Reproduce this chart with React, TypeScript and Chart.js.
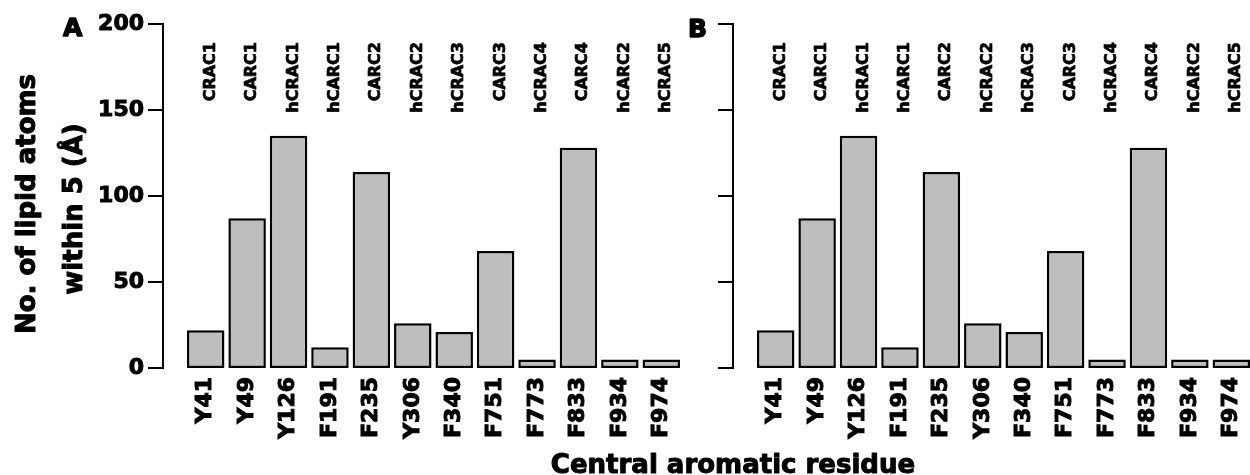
import React, { useEffect, useRef } from 'react';
import { Chart, registerables } from 'chart.js';

Chart.register(...registerables);

const residues = ['Y41', 'Y49', 'Y126', 'F191', 'F235', 'Y306', 'F340', 'F751', 'F773', 'F833', 'F934', 'F974'];
const motifs = ['CRAC1', 'CARC1', 'hCRAC1', 'hCARC1', 'CARC2', 'hCRAC2', 'hCRAC3', 'CARC3', 'hCRAC4', 'CARC4', 'hCARC2', 'hCRAC5'];
const lipidAtoms = [22, 87, 135, 12, 114, 26, 21, 68, 5, 128, 5, 5];
const yTickValues = [0, 50, 100, 150, 200];
const yTitleLines = ['No. of lipid atoms', 'within 5 (Å)'];
const xTitle = 'Central aromatic residue';
const panelLetters = ['A', 'B'];

const FONT = "'DejaVu Sans', 'Liberation Sans', sans-serif";

function heavyText(ctx: CanvasRenderingContext2D, t: string, x: number, y: number, w: number) {
  ctx.lineWidth = w;
  ctx.lineJoin = 'round';
  ctx.strokeText(t, x, y);
  ctx.fillText(t, x, y);
}

function makeChart(canvas: HTMLCanvasElement, panel: number, canvasWidth: number) {
  const decor = {
    id: 'panelDecor',
    afterDraw(chart: any) {
      const { ctx, chartArea } = chart;
      const xs = chart.scales.x;
      const ys = chart.scales.y;
      ctx.save();
      ctx.strokeStyle = '#000';
      ctx.fillStyle = '#000';
      ctx.lineWidth = 2;
      ctx.lineCap = 'square';
      const ax = chartArea.left - 22;
      ctx.beginPath();
      ctx.moveTo(ax, ys.getPixelForValue(yTickValues[yTickValues.length - 1]));
      ctx.lineTo(ax, ys.getPixelForValue(yTickValues[0]));
      yTickValues.forEach((v) => {
        const py = ys.getPixelForValue(v);
        ctx.moveTo(ax - 14, py);
        ctx.lineTo(ax, py);
      });
      ctx.stroke();
      ctx.lineCap = 'butt';

      // motif labels
      ctx.font = `bold 16px ${FONT}`;
      motifs.forEach((m, i) => {
        ctx.save();
        ctx.translate(xs.getPixelForValue(i), chartArea.top + 18);
        ctx.rotate(-Math.PI / 2);
        ctx.textAlign = 'right';
        ctx.textBaseline = 'alphabetic';
        heavyText(ctx, m, 0, 9, 0.7);
        ctx.restore();
      });

      // panel letter
      ctx.font = `bold 25px ${FONT}`;
      ctx.textAlign = 'left';
      ctx.textBaseline = 'alphabetic';
      if (panel === 0) heavyText(ctx, panelLetters[0], 63, 36, 1.4);
      else heavyText(ctx, panelLetters[1], 118, 37, 1.4);

      if (panel === 0) {
        ctx.font = `bold 26px ${FONT}`;
        ctx.textAlign = 'center';
        const lineX = [35, 82];
        const lineY = [204, 209];
        yTitleLines.forEach((t, i) => {
          ctx.save();
          ctx.translate(lineX[i], lineY[i]);
          ctx.rotate(-Math.PI / 2);
          heavyText(ctx, t, 0, 0, 1.0);
          ctx.restore();
        });
        heavyText(ctx, xTitle, 733, 473, 1.0);
      }
      ctx.restore();
    },
  };

  const tickFont = { family: FONT, size: 22, weight: 'bold' as const };

  return new Chart(canvas, {
    type: 'bar',
    data: {
      labels: residues,
      datasets: [
        {
          data: lipidAtoms,
          backgroundColor: '#BEBEBE',
          borderColor: '#000000',
          borderWidth: 2.5,
          borderSkipped: false,
          barPercentage: 0.905,
          categoryPercentage: 1,
        },
      ],
    },
    options: {
      animation: false,
      responsive: false,
      devicePixelRatio: 1,
      layout: { padding: { left: 0, top: 24, right: canvasWidth - 682, bottom: 0 } },
      plugins: { legend: { display: false }, tooltip: { enabled: false } },
      scales: {
        x: {
          grid: { display: false, drawTicks: false },
          border: { display: false },
          ticks: {
            autoSkip: false,
            minRotation: 90,
            maxRotation: 90,
            padding: 9,
            color: '#000',
            textStrokeColor: '#000',
            textStrokeWidth: 1.0,
            font: tickFont,
          },
          afterFit: (s: any) => {
            s.height = 107;
            s.paddingLeft = 0;
            s.paddingRight = 0;
          },
        },
        y: {
          min: 0,
          max: 200,
          grid: { display: false, drawTicks: false },
          border: { display: false },
          ticks: {
            display: panel === 0,
            stepSize: 50,
            padding: 41,
            color: '#000',
            textStrokeColor: '#000',
            textStrokeWidth: 1.0,
            font: tickFont,
          },
          afterFit: (s: any) => {
            s.width = 185;
            s.paddingTop = 0;
            s.paddingBottom = 0;
          },
        },
      },
    },
    plugins: [decor],
  } as any);
}

export default function App() {
  const refA = useRef<HTMLCanvasElement>(null);
  const refB = useRef<HTMLCanvasElement>(null);

  useEffect(() => {
    const a = makeChart(refA.current!, 0, 1250);
    const b = makeChart(refB.current!, 1, 700);
    return () => {
      a.destroy();
      b.destroy();
    };
  }, []);

  return (
    <div
      style={{
        position: 'fixed',
        left: 0,
        top: 0,
        width: 1250,
        height: 475,
        overflow: 'hidden',
        background: '#fff',
      }}
    >
      <canvas
        ref={refA}
        width={1250}
        height={475}
        style={{ position: 'absolute', left: 0, top: 0, width: 1250, height: 475, display: 'block' }}
      />
      <canvas
        ref={refB}
        width={700}
        height={475}
        style={{ position: 'absolute', left: 570, top: 0, width: 700, height: 475, display: 'block' }}
      />
    </div>
  );
}
